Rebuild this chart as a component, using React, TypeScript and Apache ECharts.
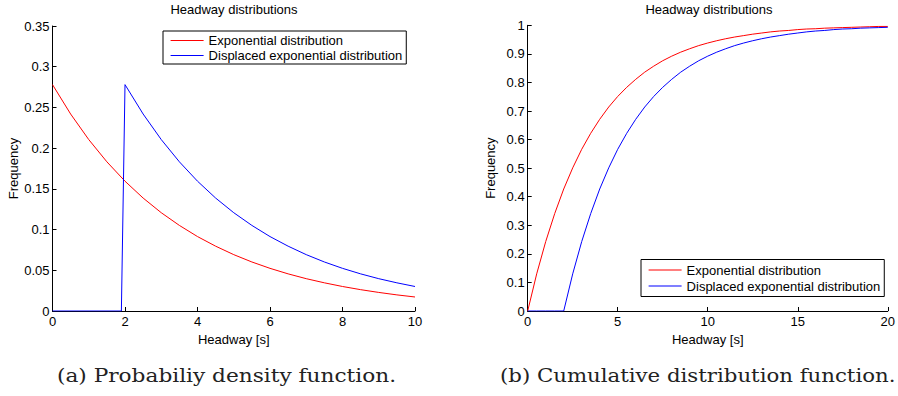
import { useEffect, useRef } from "react";
import * as echarts from "echarts";

const pdfX = [0, 0.5, 1, 1.5, 2, 2.5, 3, 3.5, 4, 4.5, 5, 5.5, 6, 6.5, 7, 7.5, 8, 8.5, 9, 9.5, 10];
const pdfExp = [0.278, 0.2419, 0.2105, 0.1832, 0.1594, 0.1387, 0.1207, 0.1051, 0.0914, 0.0796, 0.0692, 0.0602, 0.0524, 0.0456, 0.0397, 0.0346, 0.0301, 0.0262, 0.0228, 0.0198, 0.0172];
const pdfDispX = [0, 1.9, 2, 2.5, 3, 3.5, 4, 4.5, 5, 5.5, 6, 6.5, 7, 7.5, 8, 8.5, 9, 9.5, 10];
const pdfDisp = [0, 0, 0.278, 0.2419, 0.2105, 0.1832, 0.1594, 0.1387, 0.1207, 0.1051, 0.0914, 0.0796, 0.0692, 0.0602, 0.0524, 0.0456, 0.0397, 0.0346, 0.0301];

const cdfX = [0, 0.5, 1, 1.5, 2, 2.5, 3, 3.5, 4, 4.5, 5, 5.5, 6, 6.5, 7, 7.5, 8, 8.5, 9, 9.5, 10, 10.5, 11, 11.5, 12, 12.5, 13, 13.5, 14, 14.5, 15, 15.5, 16, 16.5, 17, 17.5, 18, 18.5, 19, 19.5, 20];
const cdfExp = [0, 0.130, 0.243, 0.341, 0.427, 0.501, 0.566, 0.622, 0.671, 0.714, 0.751, 0.783, 0.811, 0.836, 0.857, 0.876, 0.892, 0.906, 0.918, 0.929, 0.938, 0.946, 0.953, 0.959, 0.964, 0.969, 0.973, 0.977, 0.980, 0.982, 0.985, 0.987, 0.988, 0.990, 0.991, 0.992, 0.993, 0.994, 0.995, 0.996, 0.996];
const cdfDisp = [0, 0, 0, 0, 0, 0.130, 0.243, 0.341, 0.427, 0.501, 0.566, 0.622, 0.671, 0.714, 0.751, 0.783, 0.811, 0.836, 0.857, 0.876, 0.892, 0.906, 0.918, 0.929, 0.938, 0.946, 0.953, 0.959, 0.964, 0.969, 0.973, 0.977, 0.980, 0.982, 0.985, 0.987, 0.988, 0.990, 0.991, 0.992, 0.993];

const seriesNames = ["Exponential distribution", "Displaced exponential distribution"];
const titleText = "Headway distributions";
const xName = "Headway [s]";
const yName = "Frequency";
const captions = ["(a) Probabiliy density function.", "(b) Cumulative distribution function."];

const FONT = "'Liberation Sans', Arial, sans-serif";
const RED = "#ff0000";
const BLUE = "#0000ff";
const COLORS = [RED, BLUE];

function pairs(xs: number[], ys: number[]) {
  return xs.map((x, i) => [x, ys[i]]);
}

export default function App() {
  const ref = useRef<HTMLDivElement>(null);
  useEffect(() => {
    if (!ref.current) return;
    const chart = echarts.init(ref.current, undefined, { renderer: "svg" });
    const axisCommon = {
      axisLine: { show: true, lineStyle: { color: "#000", width: 1 } },
      axisTick: { show: true, inside: true, length: 4, lineStyle: { color: "#000" } },
      splitLine: { show: false },
      axisLabel: { color: "#000", fontSize: 13, fontFamily: FONT },
      nameTextStyle: { color: "#000", fontSize: 13, fontFamily: FONT },
      nameLocation: "middle" as const,
    };
    const lineCommon = {
      type: "line" as const,
      symbol: "none",
      showSymbol: false,
      smooth: false,
    };
    const legendCommon = {
      data: seriesNames,
      orient: "vertical", itemWidth: 33, itemHeight: 14,
      itemStyle: { opacity: 0 },
      lineStyle: { width: 1.2 },
      borderColor: "#000", borderWidth: 1, backgroundColor: "#fff",
      textStyle: { fontSize: 13, fontFamily: FONT, color: "#000" }, selectedMode: false,
    };
    const titleStyle = { fontSize: 13, fontWeight: "normal", fontFamily: FONT, color: "#000" };
    const mk = (i: number, xa: number, data: number[][]) => ({
      ...lineCommon, name: seriesNames[i], color: COLORS[i], xAxisIndex: xa, yAxisIndex: xa, data,
      lineStyle: { color: COLORS[i], width: 1 }, itemStyle: { color: COLORS[i] },
    });
    chart.setOption({
      animation: false,
      backgroundColor: "#fff",
      color: COLORS,
      title: [
        { text: titleText, left: 234, top: 3, padding: 0, textAlign: "center", textStyle: titleStyle },
        { text: titleText, left: 709, top: 3, padding: 0, textAlign: "center", textStyle: titleStyle },
      ],
      grid: [
        { left: 52.5, top: 26, width: 362.5, height: 285 },
        { left: 527.7, top: 25.3, width: 362.3, height: 285.7 },
      ],
      xAxis: [
        { ...axisCommon, gridIndex: 0, type: "value", min: 0, max: 10, interval: 2, name: xName, nameGap: 20, axisLabel: { ...axisCommon.axisLabel, margin: 4 } },
        { ...axisCommon, gridIndex: 1, type: "value", min: 0, max: 20, interval: 5, name: xName, nameGap: 20, axisLabel: { ...axisCommon.axisLabel, margin: 4 } },
      ],
      yAxis: [
        { ...axisCommon, gridIndex: 0, type: "value", min: 0, max: 0.35, interval: 0.05, name: yName, nameGap: 33, axisLabel: { ...axisCommon.axisLabel, margin: 3 } },
        { ...axisCommon, gridIndex: 1, type: "value", min: 0, max: 1, interval: 0.1, name: yName, nameGap: 31, axisLabel: { ...axisCommon.axisLabel, margin: 3 } },
      ],
      legend: [
        { ...legendCommon, left: 163, top: 31, itemGap: 2, padding: [3, 4, 2, 7] },
        { ...legendCommon, left: 641, top: 259.5, itemGap: 3, padding: [4, 4, 4, 7] },
      ],
      series: [
        mk(0, 0, pairs(pdfX, pdfExp)),
        mk(1, 0, pairs(pdfDispX, pdfDisp)),
        mk(0, 1, pairs(cdfX, cdfExp)),
        mk(1, 1, pairs(cdfX, cdfDisp)),
      ],
      graphic: [
        { type: "text", x: 57, y: 366, scaleX: 1.14, style: { text: captions[0], font: "19px 'DejaVu Serif', serif", fill: "#222" } },
        { type: "text", x: 500, y: 366, scaleX: 1.12, style: { text: captions[1], font: "19px 'DejaVu Serif', serif", fill: "#222" } },
      ],
    });
    return () => chart.dispose();
  }, []);
  return <div ref={ref} style={{ position: "fixed", left: 0, top: 0, width: 898, height: 396 }} />;
}
